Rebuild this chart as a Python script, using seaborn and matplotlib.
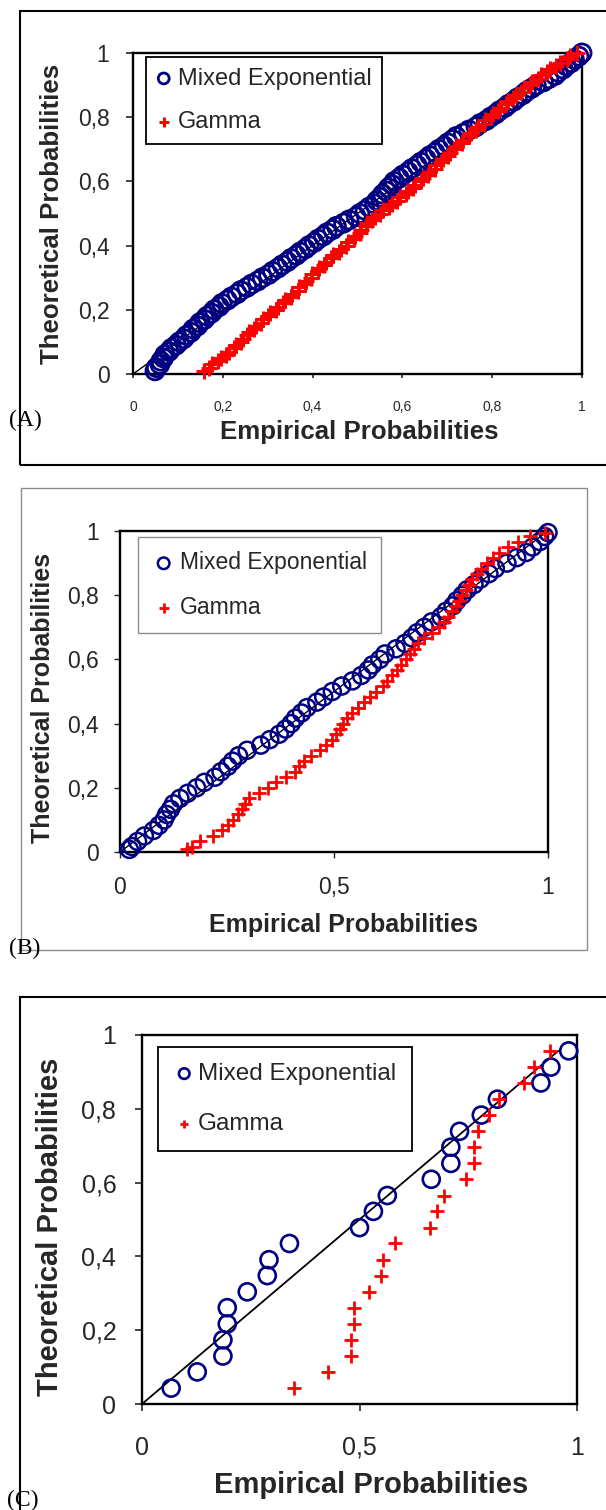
import matplotlib
matplotlib.use("Agg")
import matplotlib.pyplot as plt
from matplotlib.patches import Rectangle
import seaborn as sns

sns.set_style("white")
plt.rcParams["font.family"] = ["Liberation Sans", "DejaVu Sans"]

# ---------------- data ----------------
# Panel A: theoretical probabilities and the empirical probabilities of both fits
theo_a = [0.01, 0.02, 0.03, 0.04, 0.05, 0.06, 0.07, 0.08, 0.09, 0.10,
          0.11, 0.12, 0.13, 0.14, 0.15, 0.16, 0.17, 0.18, 0.19, 0.20,
          0.21, 0.22, 0.23, 0.24, 0.25, 0.26, 0.27, 0.28, 0.29, 0.30,
          0.31, 0.32, 0.33, 0.34, 0.35, 0.36, 0.37, 0.38, 0.39, 0.40,
          0.41, 0.42, 0.43, 0.44, 0.45, 0.46, 0.47, 0.48, 0.49, 0.50,
          0.51, 0.52, 0.53, 0.54, 0.55, 0.56, 0.57, 0.58, 0.59, 0.60,
          0.61, 0.62, 0.63, 0.64, 0.65, 0.66, 0.67, 0.68, 0.69, 0.70,
          0.71, 0.72, 0.73, 0.74, 0.75, 0.76, 0.77, 0.78, 0.79, 0.80,
          0.81, 0.82, 0.83, 0.84, 0.85, 0.86, 0.87, 0.88, 0.89, 0.90,
          0.91, 0.92, 0.93, 0.94, 0.95, 0.96, 0.97, 0.98, 0.99, 1.00]
emp_a_mixed = [0.049, 0.052, 0.060, 0.062, 0.068, 0.071, 0.080, 0.086, 0.096, 0.103,
               0.113, 0.119, 0.129, 0.134, 0.144, 0.149, 0.159, 0.165, 0.175, 0.181,
               0.192, 0.198, 0.210, 0.219, 0.232, 0.240, 0.254, 0.264, 0.278, 0.288,
               0.302, 0.311, 0.323, 0.332, 0.344, 0.352, 0.364, 0.372, 0.384, 0.392,
               0.404, 0.412, 0.424, 0.432, 0.445, 0.453, 0.469, 0.481, 0.497, 0.505,
               0.517, 0.526, 0.538, 0.543, 0.551, 0.556, 0.564, 0.569, 0.577, 0.582,
               0.593, 0.601, 0.613, 0.621, 0.633, 0.641, 0.653, 0.661, 0.673, 0.681,
               0.693, 0.701, 0.712, 0.720, 0.736, 0.748, 0.764, 0.773, 0.787, 0.796,
               0.808, 0.816, 0.828, 0.836, 0.848, 0.856, 0.868, 0.876, 0.888, 0.898,
               0.914, 0.926, 0.940, 0.947, 0.958, 0.965, 0.976, 0.983, 0.993, 1.000]
emp_a_gamma = [0.158, 0.170, 0.177, 0.190, 0.195, 0.207, 0.213, 0.226, 0.230, 0.240,
               0.244, 0.255, 0.259, 0.270, 0.274, 0.285, 0.289, 0.301, 0.305, 0.318,
               0.322, 0.334, 0.339, 0.351, 0.355, 0.367, 0.370, 0.382, 0.385, 0.396,
               0.399, 0.411, 0.414, 0.425, 0.429, 0.442, 0.446, 0.458, 0.463, 0.475,
               0.479, 0.492, 0.495, 0.506, 0.508, 0.519, 0.521, 0.532, 0.538, 0.551,
               0.557, 0.570, 0.576, 0.589, 0.595, 0.608, 0.612, 0.624, 0.628, 0.641,
               0.645, 0.657, 0.660, 0.672, 0.675, 0.686, 0.690, 0.701, 0.705, 0.716,
               0.720, 0.732, 0.736, 0.748, 0.753, 0.765, 0.769, 0.781, 0.785, 0.797,
               0.802, 0.814, 0.818, 0.831, 0.835, 0.847, 0.852, 0.865, 0.870, 0.884,
               0.889, 0.902, 0.908, 0.921, 0.928, 0.943, 0.950, 0.967, 0.974, 0.989]

# Panel B
theo_b = [0.008, 0.017, 0.033, 0.050, 0.067, 0.083, 0.100, 0.117, 0.133, 0.150,
          0.167, 0.183, 0.200, 0.217, 0.233, 0.250, 0.267, 0.283, 0.300, 0.317,
          0.333, 0.350, 0.367, 0.383, 0.400, 0.417, 0.433, 0.450, 0.467, 0.483,
          0.500, 0.517, 0.533, 0.550, 0.567, 0.583, 0.600, 0.617, 0.633, 0.650,
          0.667, 0.683, 0.700, 0.717, 0.733, 0.750, 0.767, 0.783, 0.800, 0.817,
          0.833, 0.850, 0.867, 0.883, 0.900, 0.917, 0.933, 0.950, 0.967, 0.983,
          0.995]
emp_b_mixed = [0.022, 0.028, 0.041, 0.057, 0.078, 0.091, 0.103, 0.109, 0.118, 0.125,
               0.140, 0.158, 0.179, 0.197, 0.222, 0.236, 0.252, 0.263, 0.277, 0.297,
               0.329, 0.350, 0.372, 0.387, 0.400, 0.410, 0.424, 0.437, 0.460, 0.476,
               0.496, 0.518, 0.543, 0.564, 0.580, 0.590, 0.607, 0.619, 0.645, 0.666,
               0.682, 0.694, 0.711, 0.728, 0.750, 0.762, 0.778, 0.787, 0.800, 0.811,
               0.827, 0.842, 0.862, 0.877, 0.904, 0.927, 0.949, 0.964, 0.981, 0.992,
               1.000]
emp_b_gamma = [0.157, 0.168, 0.188, 0.217, 0.238, 0.253, 0.264, 0.276, 0.284, 0.291,
               0.302, 0.325, 0.346, 0.365, 0.387, 0.408, 0.418, 0.429, 0.447, 0.467,
               0.481, 0.495, 0.505, 0.515, 0.522, 0.530, 0.542, 0.556, 0.571, 0.585,
               0.599, 0.614, 0.624, 0.635, 0.648, 0.657, 0.668, 0.677, 0.687, 0.697,
               0.710, 0.729, 0.745, 0.756, 0.767, 0.776, 0.785, 0.793, 0.800, 0.808,
               0.815, 0.822, 0.833, 0.844, 0.857, 0.872, 0.886, 0.906, 0.929, 0.959,
               0.993]

# Panel C
theo_c = [0.043, 0.087, 0.130, 0.174, 0.217, 0.261, 0.304, 0.348, 0.391, 0.435, 0.478,
          0.522, 0.565, 0.609, 0.652, 0.696, 0.739, 0.783, 0.826, 0.870, 0.913, 0.957]
emp_c_mixed = [0.067, 0.127, 0.186, 0.186, 0.196, 0.196, 0.242, 0.288, 0.292, 0.339, 0.500,
               0.532, 0.564, 0.665, 0.710, 0.710, 0.730, 0.780, 0.817, 0.917, 0.940, 0.981]
emp_c_gamma = [0.350, 0.428, 0.480, 0.480, 0.487, 0.487, 0.522, 0.550, 0.553, 0.581, 0.662,
               0.679, 0.695, 0.744, 0.764, 0.764, 0.773, 0.798, 0.820, 0.879, 0.900, 0.937]

# reference diagonals
diag_ab = [0.0, 1.0]
diag_c = [0.0, 0.957]

series_names = ["Mixed Exponential", "Gamma"]
prob_ticks_fine = [0.0, 0.2, 0.4, 0.6, 0.8, 1.0]
prob_labels_fine = ["0", "0,2", "0,4", "0,6", "0,8", "1"]
prob_ticks_coarse = [0.0, 0.5, 1.0]
prob_labels_coarse = ["0", "0,5", "1"]
panel_tags = ["(A)", "(B)", "(C)"]

NAVY = "#000080"
RED = "#FF0000"

W, H = 606, 1510
fig = plt.figure(figsize=(W / 100, H / 100), dpi=100)


def px_axes(x0, y0, x1, y1):
    return fig.add_axes([x0 / W, 1 - y1 / H, (x1 - x0) / W, (y1 - y0) / H])


def px_frame(x0, y0, x1, y1, color, lw):
    fig.add_artist(Rectangle((x0 / W, 1 - y1 / H), (x1 - x0) / W, (y1 - y0) / H,
                             transform=fig.transFigure, fill=False,
                             edgecolor=color, linewidth=lw, zorder=0))


def draw_panel(ax, emp_mixed, emp_gamma, theo, diag, circ_s, circ_lw, plus_s, plus_lw, diag_lw):
    sns.lineplot(x=diag, y=diag, ax=ax, color="black", linewidth=diag_lw, zorder=1)
    sns.scatterplot(x=emp_mixed, y=theo, ax=ax, marker="o", s=circ_s,
                    facecolor="none", edgecolor=NAVY, linewidth=circ_lw,
                    label=series_names[0], clip_on=False, zorder=3)
    sns.scatterplot(x=emp_gamma, y=theo, ax=ax, marker="+", s=plus_s,
                    color=RED, linewidth=plus_lw, label=series_names[1],
                    clip_on=False, zorder=4)
    ax.set_xlim(0, 1)
    ax.set_ylim(0, 1)
    for sp in ax.spines.values():
        sp.set_color("black")
        sp.set_linewidth(1.7)
        sp.set_visible(True)


def style_legend(ax, anchor, fs, scale, edge, lw, bpad, hlen, tpad, lspace):
    leg = ax.legend(loc="upper left", bbox_to_anchor=anchor, borderaxespad=0,
                    frameon=True, fancybox=False, framealpha=1, edgecolor=edge,
                    prop={"family": "Liberation Sans", "size": fs},
                    borderpad=bpad, handlelength=hlen, handletextpad=tpad,
                    labelspacing=lspace, markerscale=scale)
    leg.get_frame().set_linewidth(lw)
    return leg


bold = {"family": "Liberation Sans", "weight": "bold"}

# ---------------- Panel A ----------------
px_frame(20, 11, 660, 465, "black", 1.5)
axA = px_axes(133, 53, 582, 374)
draw_panel(axA, emp_a_mixed, emp_a_gamma, theo_a, diag_ab, 170, 2.0, 120, 2.2, 1.0)
axA.set_xticks(prob_ticks_fine)
axA.set_xticklabels(prob_labels_fine, fontsize=10)
axA.set_yticks(prob_ticks_fine)
axA.set_yticklabels(prob_labels_fine, fontsize=16.5)
axA.tick_params(axis="x", direction="out", length=3, width=1.2, pad=16, bottom=True)
axA.tick_params(axis="y", direction="out", length=5, width=1.2, pad=12, left=True)
axA.set_xlabel("Empirical Probabilities", fontdict=bold, fontsize=18.6, va="center")
axA.set_ylabel("Theoretical Probabilities", fontdict=bold, fontsize=18.6, va="center")
axA.xaxis.set_label_coords(0.503, -0.181)
axA.yaxis.set_label_coords(-0.18, 0.50)
style_legend(axA, (0.029, 0.9875), 17, 0.6, "black", 1.3, 0.45, 0.6, 0.3, 0.9)

# ---------------- Panel B ----------------
px_frame(21, 488, 587, 950, "#8c8c8c", 1.0)
axB = px_axes(120, 531, 548, 852)
draw_panel(axB, emp_b_mixed, emp_b_gamma, theo_b, diag_ab, 150, 1.8, 100, 2.0, 1.0)
axB.set_xticks(prob_ticks_coarse)
axB.set_xticklabels(prob_labels_coarse, fontsize=16.5)
axB.set_yticks(prob_ticks_fine)
axB.set_yticklabels(prob_labels_fine, fontsize=16.5)
axB.tick_params(axis="x", direction="out", length=4, width=1.0, pad=13, bottom=True)
axB.tick_params(axis="y", direction="out", length=4, width=1.0, pad=11, left=True)
axB.set_xlabel("Empirical Probabilities", fontdict=bold, fontsize=18, va="center")
axB.set_ylabel("Theoretical Probabilities", fontdict=bold, fontsize=18, va="center")
axB.xaxis.set_label_coords(0.522, -0.227)
axB.yaxis.set_label_coords(-0.181, 0.48)
style_legend(axB, (0.042, 0.981), 16.5, 0.68, "#8c8c8c", 1.0, 0.62, 1.0, 0.2, 0.93)

# ---------------- Panel C ----------------
px_frame(20, 997, 660, 1540, "black", 1.5)
axC = px_axes(142, 1035, 577, 1404)
draw_panel(axC, emp_c_mixed, emp_c_gamma, theo_c, diag_c, 150, 1.9, 95, 2.0, 1.3)
axC.set_xticks(prob_ticks_coarse)
axC.set_xticklabels(prob_labels_coarse, fontsize=18)
axC.set_yticks(prob_ticks_fine)
axC.set_yticklabels(prob_labels_fine, fontsize=18)
axC.tick_params(axis="x", direction="out", length=5, width=1.2, pad=18, bottom=True)
axC.tick_params(axis="y", direction="out", length=5, width=1.2, pad=13.5, left=True)
axC.set_xlabel("Empirical Probabilities", fontdict=bold, fontsize=21, va="center")
axC.set_ylabel("Theoretical Probabilities", fontdict=bold, fontsize=21, va="center")
axC.xaxis.set_label_coords(0.526, -0.2195)
axC.yaxis.set_label_coords(-0.2115, 0.48)
style_legend(axC, (0.037, 0.967), 17.5, 0.62, "black", 1.3, 0.65, 0.85, 0.15, 1.17)

# ---------------- panel tags ----------------
for tag, (cx, cy) in zip(panel_tags, [(25, 420), (25, 948), (23, 1500)]):
    fig.text(cx / W, 1 - cy / H, tag, ha="center", va="center",
             family="Liberation Serif", fontsize=17, color="black")

fig.savefig("out.png", dpi=100)
